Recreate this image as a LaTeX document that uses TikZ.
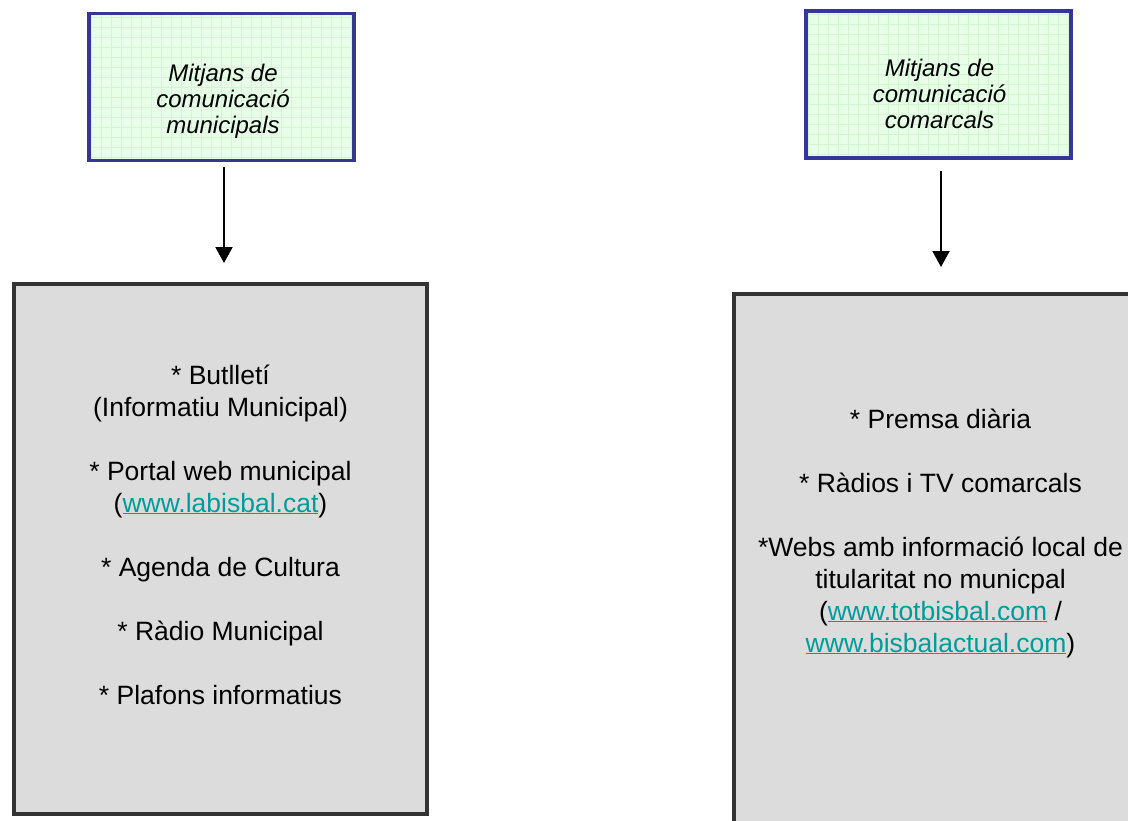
\documentclass[tikz,border=0pt]{standalone}
\usepackage{fontspec}
\setmainfont{Liberation Sans}
\usetikzlibrary{arrows.meta}
\definecolor{boxblue}{HTML}{363696}
\definecolor{boxgreen}{HTML}{E6FFE6}
\definecolor{gridgreen}{HTML}{D4F4D4}
\definecolor{boxgray}{HTML}{DCDCDC}
\definecolor{bordergray}{HTML}{333333}
\definecolor{linkteal}{HTML}{009C9C}
\newcommand{\weblink}[1]{\textcolor{linkteal}{\underline{#1}}}
\tikzset{
  topbox/.style={draw=boxblue, line width=3.5pt, fill=boxgreen,
    minimum width=265pt, minimum height=147pt, inner sep=0pt,
    path picture={\draw[gridgreen, line width=0.6pt, step=10pt]
      (path picture bounding box.south west) grid (path picture bounding box.north east);}},
  listbox/.style={draw=bordergray, line width=4pt, fill=boxgray,
    minimum width=413pt, minimum height=530pt, inner sep=0pt},
  toptext/.style={anchor=base, inner sep=0pt, font=\fontsize{24}{26}\selectfont\itshape},
  listtext/.style={anchor=base, inner sep=0pt, font=\fontsize{26.5}{32}\selectfont},
  arr/.style={line width=2pt, -{Triangle[width=17pt,length=16pt]}}
}
\begin{document}
\begin{tikzpicture}[x=1pt,y=-1pt]
\useasboundingbox (0,0) rectangle (1128,820);
% boxes
\node[topbox] (m1) at (221.5,87) {};
\node[topbox] (m2) at (938.5,84.5) {};
\node[listbox] (b1) at (220.5,549) {};
\node[listbox] (b2) at (940.5,559) {};
% top texts
\node[toptext] (m1a) at (223,81) {Mitjans de};
\node[toptext] (m1b) at (223,107) {comunicació};
\node[toptext] (m1c) at (223,133) {municipals};
\node[toptext] (m2a) at (939.5,76) {Mitjans de};
\node[toptext] (m2b) at (939.5,102) {comunicació};
\node[toptext] (m2c) at (939.5,128) {comarcals};
% left list
\node[listtext] (l1) at (220.5,384) {* Butlletí};
\node[listtext] (l2) at (220.5,416) {(Informatiu Municipal)};
\node[listtext] (l3) at (220.5,480) {* Portal web municipal};
\node[listtext] (l4) at (220.5,512) {(\weblink{www.labisbal.cat})};
\node[listtext] (l5) at (220.5,576) {* Agenda de Cultura};
\node[listtext] (l6) at (220.5,640) {* Ràdio Municipal};
\node[listtext] (l7) at (220.5,704) {* Plafons informatius};
% right list
\node[listtext] (r1) at (940.5,428) {* Premsa diària};
\node[listtext] (r2) at (940.5,492) {* Ràdios i TV comarcals};
\node[listtext] (r3) at (940.5,556) {*Webs amb informació local de};
\node[listtext] (r4) at (940.5,588) {titularitat no municpal};
\node[listtext] (r5) at (940.5,620) {(\weblink{www.totbisbal.com} /};
\node[listtext] (r6) at (940.5,652) {\weblink{www.bisbalactual.com})};
% arrows
\draw[arr, shorten <=5pt, shorten >=19pt] ([xshift=2.5pt]m1.south) -- ([xshift=2.5pt]m1.south |- b1.north);
\draw[arr, shorten <=11pt, shorten >=25pt] ([xshift=2.5pt]m2.south) -- ([xshift=2.5pt]m2.south |- b2.north);
\end{tikzpicture}
\end{document}
